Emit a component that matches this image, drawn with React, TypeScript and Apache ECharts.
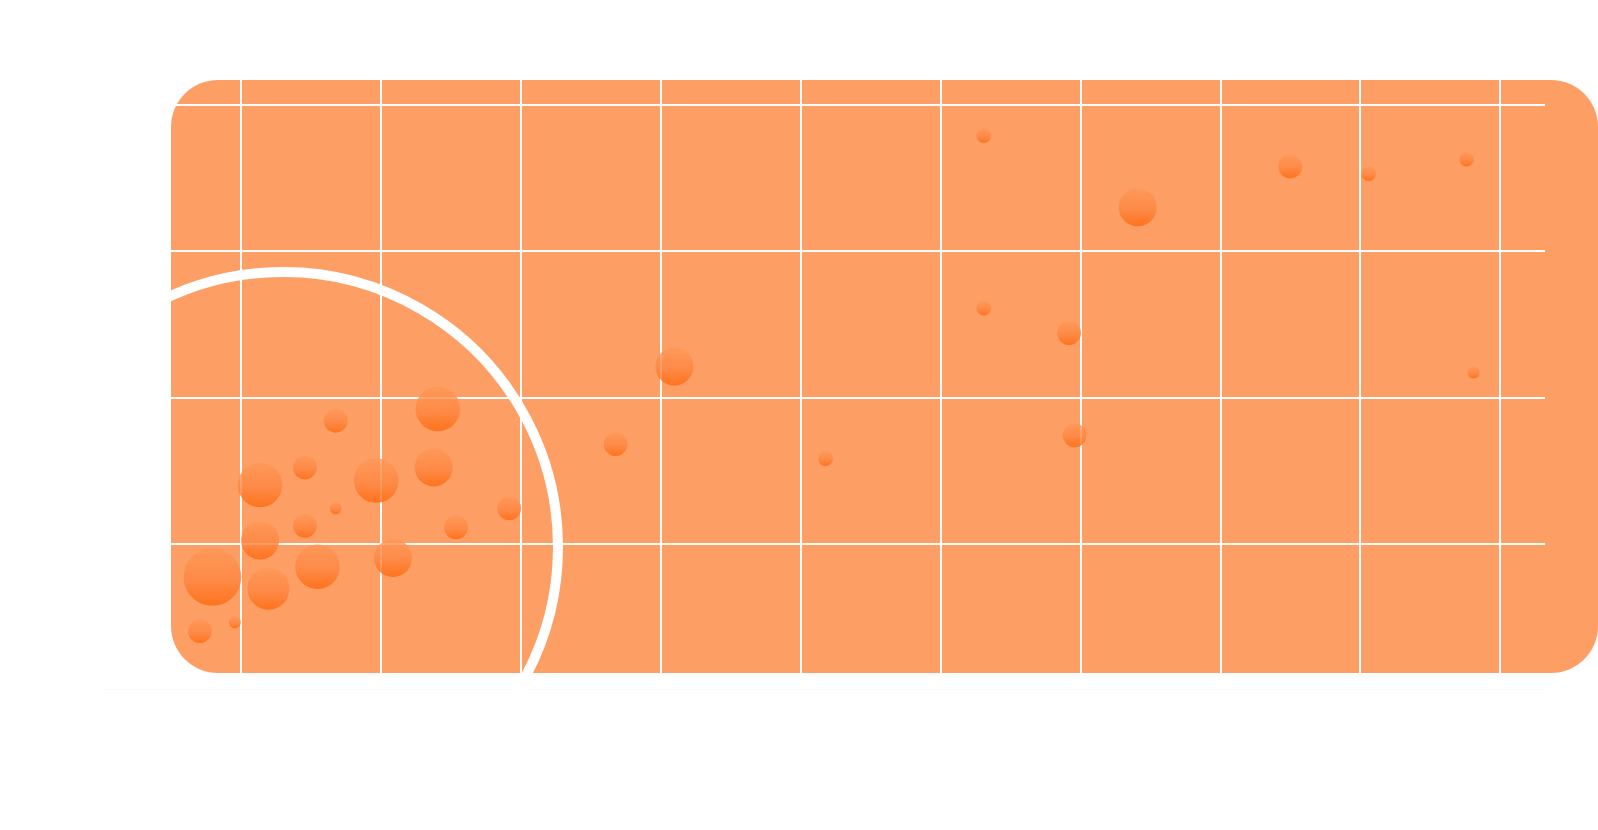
import React, { useEffect, useRef } from "react";
import * as echarts from "echarts";

// bubble data: x, y, bubble weight (radius-like)
const xValues = [24.1, 16.8, 14.6, 11.4, 19.7, 23.8, 16.8, 29.2, 14.6, 25.4, 11.4, 20.9, 15.5, 8.0, 12.0, 9.6, 7.1, 63.1, 74.1, 85.0, 90.6, 63.1, 69.2, 97.6, 98.1, 41.0, 36.8, 51.8, 69.6];
const yValues = [19.2, 18.4, 15.2, 14.0, 14.3, 15.2, 12.4, 12.4, 11.2, 11.1, 10.2, 9.0, 8.4, 7.7, 6.9, 4.6, 4.0, 37.9, 33.0, 35.8, 35.3, 26.1, 24.4, 36.3, 21.7, 22.1, 16.8, 15.8, 17.4];
const weights = [22.3, 12, 12, 22.3, 22.3, 19, 6, 12, 12, 12, 19, 19, 22.3, 28.8, 21, 6, 12, 7.3, 19, 12, 7.3, 7.3, 12, 7.3, 6, 19, 12, 7.3, 12];

const xTickLabels = ["0", "10", "20", "30", "40", "50", "60", "70", "80", "90", "100"];
const yTickLabels = ["0", "10", "20", "30", "40"];

export default function App() {
  const ref = useRef<HTMLDivElement>(null);
  useEffect(() => {
    if (!ref.current) return;
    const chart = echarts.init(ref.current, null, { renderer: "svg" });
    const data = xValues.map((x, i) => [x, yValues[i], weights[i]]);
    chart.setOption({
      animation: false,
      backgroundColor: "#ffffff",
      grid: { left: 100.5, right: 53, top: 70, bottom: 140.5 },
      graphic: [
        {
          type: "rect",
          z: -10,
          silent: true,
          shape: { x: 171, y: 80, width: 1427, height: 593, r: 47 },
          style: { fill: "#fd9f65" },
        },
        {
          type: "circle",
          z: 5,
          silent: true,
          shape: { cx: 283, cy: 547, r: 275 },
          style: { fill: "none", stroke: "#ffffff", lineWidth: 10 },
        },
      ],
      xAxis: {
        type: "value",
        min: 0,
        max: 103.2,
        interval: 10,
        axisLine: { show: true, lineStyle: { color: "#fbfbfb", width: 1 } },
        axisTick: { show: false },
        axisLabel: {
          color: "#ffffff",
          fontSize: 22,
          margin: 10,
          showMaxLabel: false,
          formatter: (v: number) => xTickLabels[Math.round(v / 10)] ?? "",
        },
        splitLine: {
          show: true,
          showMinLine: false,
          showMaxLine: false,
          lineStyle: { color: "#ffffff", width: 2 },
        },
      },
      yAxis: {
        type: "value",
        min: 0,
        max: 42.4,
        interval: 10,
        axisLine: { show: false },
        axisTick: { show: false },
        axisLabel: {
          color: "#ffffff",
          fontSize: 22,
          margin: 12,
          showMaxLabel: false,
          formatter: (v: number) => yTickLabels[Math.round(v / 10)] ?? "",
        },
        splitLine: {
          show: true,
          showMinLine: false,
          showMaxLine: false,
          lineStyle: { color: "#ffffff", width: 2 },
        },
      },
      series: [
        {
          type: "scatter",
          data,
          symbolSize: (d: number[]) => d[2] * 2,
          itemStyle: {
            color: {
              type: "linear",
              x: 0,
              y: 0,
              x2: 0,
              y2: 1,
              colorStops: [
                { offset: 0, color: "#fe9756" },
                { offset: 0.55, color: "#fe8540" },
                { offset: 1, color: "#ff680c" },
              ],
            },
          },
          z: 3,
        },
      ],
    });
    return () => chart.dispose();
  }, []);
  return (
    <div
      ref={ref}
      style={{ position: "fixed", left: 0, top: 0, width: 1598, height: 830 }}
    />
  );
}
